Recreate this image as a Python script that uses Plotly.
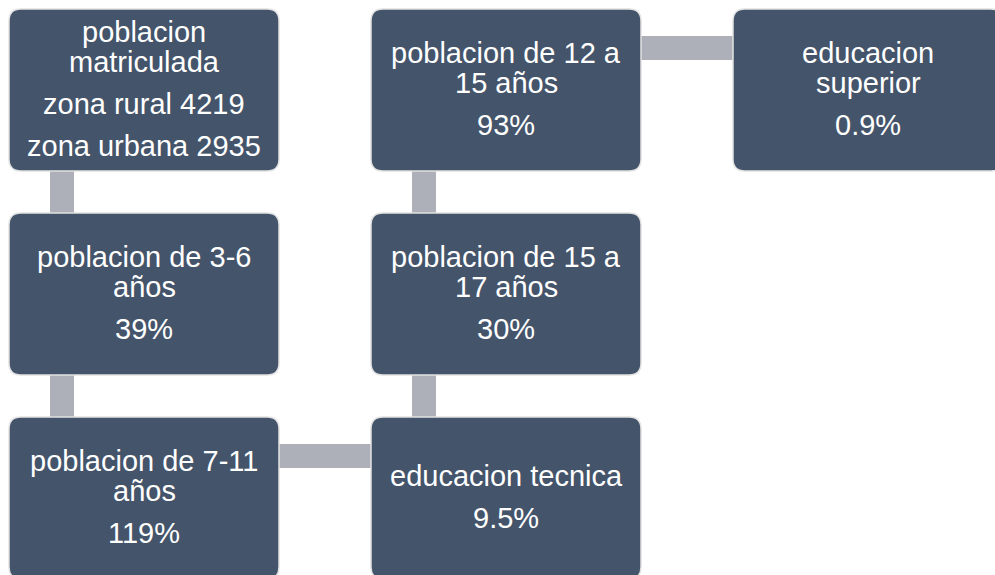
import plotly.graph_objects as go

# ---- data ----
step_titles = [
    ["poblacion", "matriculada"],
    ["poblacion de 3-6", "años"],
    ["poblacion de 7-11", "años"],
    ["educacion tecnica"],
    ["poblacion de 15 a", "17 años"],
    ["poblacion de 12 a", "15 años"],
    ["educacion", "superior"],
]
step_values = [
    ["zona rural 4219", "zona urbana 2935"],
    ["39%"],
    ["119%"],
    ["9.5%"],
    ["30%"],
    ["93%"],
    ["0.9%"],
]
step_cols = [0, 0, 0, 1, 1, 1, 2]
step_rows = [0, 1, 2, 2, 1, 0, 0]

# ---- style / layout constants ----
W, H = 995, 575
BOX_FILL = "#44546A"
BOX_LINE = "#E2E2E2"
CONN = "#ADB0B8"
TXT = "#FFFFFF"
FONT = "Liberation Sans, Arial, sans-serif"
FS = 29
X0, DX, BW = 9, 362, 270
Y0, DY, BH = 9, 204, 162
R = 12
CW = 24
WRAP_GAP = 30
PARA_GAP = 42


def box_geom(c, r):
    x = X0 + DX * c
    y = Y0 + DY * r
    return x, y, x + BW, y + BH


def rrect(x0, y0, x1, y1, r):
    return (f"M {x0+r},{y0} L {x1-r},{y0} Q {x1},{y0} {x1},{y0+r} "
            f"L {x1},{y1-r} Q {x1},{y1} {x1-r},{y1} L {x0+r},{y1} "
            f"Q {x0},{y1} {x0},{y1-r} L {x0},{y0+r} Q {x0},{y0} {x0+r},{y0} Z")


fig = go.Figure()
fig.add_trace(go.Scatter(x=[0, W], y=[0, H], mode="markers",
                         marker=dict(opacity=0), hoverinfo="skip", showlegend=False))

shapes = []
annotations = []

# connectors
for i in range(len(step_cols) - 1):
    c1, r1 = step_cols[i], step_rows[i]
    c2, r2 = step_cols[i + 1], step_rows[i + 1]
    a = box_geom(c1, r1)
    b = box_geom(c2, r2)
    if c1 == c2:
        top = min(a[3], b[3])
        bot = max(a[1], b[1])
        cx0 = a[0] + 41
        shapes.append(dict(type="rect", xref="x", yref="y", x0=cx0, x1=cx0 + CW,
                           y0=top - 2, y1=bot + 2, fillcolor=CONN, line=dict(width=0),
                           layer="below"))
    else:
        left = min(a[2], b[2])
        right = max(a[0], b[0])
        cy0 = a[1] + 27
        shapes.append(dict(type="rect", xref="x", yref="y", x0=left - 2, x1=right + 2,
                           y0=cy0, y1=cy0 + CW, fillcolor=CONN, line=dict(width=0),
                           layer="below"))

# boxes and text
for title, vals, c, r in zip(step_titles, step_values, step_cols, step_rows):
    x0, y0, x1, y1 = box_geom(c, r)
    shapes.append(dict(type="path", xref="x", yref="y", path=rrect(x0, y0, x1, y1, R),
                       fillcolor=BOX_FILL, line=dict(color=BOX_LINE, width=1.5),
                       layer="above"))
    lines = []
    offs = []
    pos = 0
    for j, t in enumerate(title):
        if j > 0:
            pos += WRAP_GAP
        lines.append(t)
        offs.append(pos)
    for v in vals:
        pos += PARA_GAP
        lines.append(v)
        offs.append(pos)
    cy = (y0 + y1) / 2 - pos / 2
    cx = (x0 + x1) / 2
    for t, o in zip(lines, offs):
        annotations.append(dict(x=cx, y=cy + o - 1, xref="x", yref="y", text=t,
                                showarrow=False, xanchor="center", yanchor="middle",
                                font=dict(family=FONT, size=FS, color=TXT)))

fig.update_layout(
    width=W, height=H,
    margin=dict(l=0, r=0, t=0, b=0),
    paper_bgcolor="white", plot_bgcolor="white",
    xaxis=dict(range=[0, W], visible=False, fixedrange=True),
    yaxis=dict(range=[H, 0], visible=False, fixedrange=True),
    shapes=shapes, annotations=annotations, showlegend=False,
)
fig.write_html(
    "out.html",
    config={"displayModeBar": False},
    post_script="document.body.style.margin='0';document.body.style.overflow='hidden';",
)
